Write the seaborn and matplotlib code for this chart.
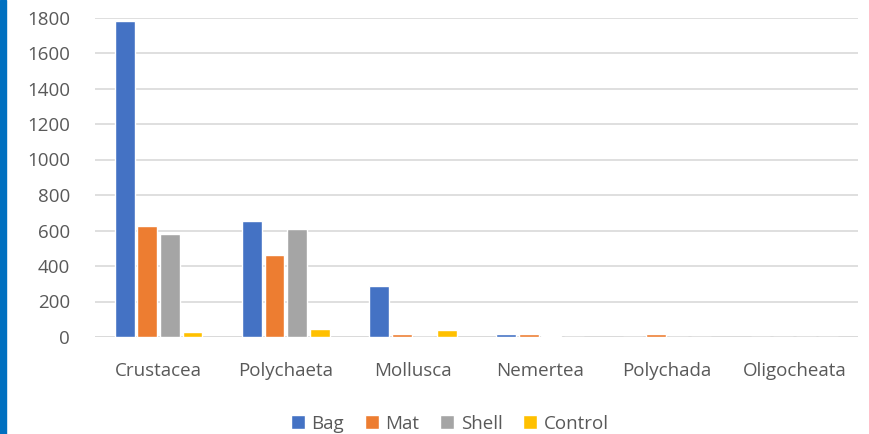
import matplotlib
matplotlib.use("Agg")
import matplotlib.pyplot as plt
import seaborn as sns
import pandas as pd

# values
taxa = ["Crustacea", "Polychaeta", "Mollusca", "Nemertea", "Polychada", "Oligocheata"]
bag = [1780, 655, 285, 18, 0, 0]
mat = [623, 460, 18, 18, 18, 0]
shell = [578, 606, 0, 5, 0, 0]
control = [29, 46, 37, 0, 0, 0]

treatments = ["Bag", "Mat", "Shell", "Control"]
colors = ["#4472C4", "#ED7D31", "#A5A5A5", "#FFC000"]

rows = []
for name, vals in zip(treatments, [bag, mat, shell, control]):
    for t, v in zip(taxa, vals):
        rows.append({"Taxon": t, "Treatment": name, "Count": v})
df = pd.DataFrame(rows)

sns.set_style("white")
plt.rcParams['font.family'] = ['Open Sans', 'DejaVu Sans']

fig = plt.figure(figsize=(8.69, 4.34), dpi=100)
ax = fig.add_axes([95 / 869, 97 / 434, 763 / 869, 319.5 / 434])

sns.barplot(data=df, x="Taxon", y="Count", hue="Treatment", palette=colors,
            width=0.71, gap=0.12, ax=ax, saturation=1, legend=True)

ax.set_ylim(0, 1800)
ax.set_yticks(range(0, 1801, 200))
ax.yaxis.grid(True, color="#D9D9D9", linewidth=1.2)
ax.set_axisbelow(True)
for s in ax.spines.values():
    s.set_visible(False)
ax.axhline(0, color="#D9D9D9", linewidth=1.2, zorder=0)
ax.set_xlabel("")
ax.set_ylabel("")
ax.tick_params(axis="y", length=0, pad=18, labelsize=13.5, labelcolor="#595959")
ax.tick_params(axis="x", length=0, pad=18, labelsize=13.5, labelcolor="#595959")

ax.legend(loc="upper center", bbox_to_anchor=(0.465, -0.19), ncol=4, frameon=False,
          fontsize=13.5, labelcolor="#595959", handlelength=0.75, handleheight=0.75,
          handletextpad=0.35, columnspacing=1.1)

# blue strip on the left edge
fig.patches.append(plt.Rectangle((0, 0), 6 / 869, 1, transform=fig.transFigure,
                                 color="#0070C0", zorder=5))

fig.savefig("out.png", dpi=100)
